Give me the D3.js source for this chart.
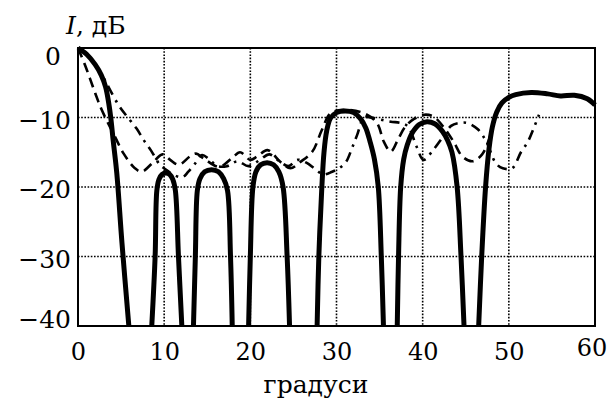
<!DOCTYPE html>
<html>
<head>
<meta charset="utf-8">
<script src="https://cdn.jsdelivr.net/npm/d3@7"></script>
<style>
  body { margin: 0; background: #fff; }
  text { font-family: "DejaVu Serif", serif; fill: #000; }
</style>
</head>
<body>
<div id="chart-area"></div>
<script>
// tick values
const xTicks = [0, 10, 20, 30, 40, 50, 60]
const yTicks = [0, -10, -20, -30, -40]
const gridX = [10, 20, 30, 40, 50]
const gridY = [-10, -20, -30]

// thick solid curve, null = break between lobes
const solid = [
  [0, 0], [1, -0.9], [2, -2.4], [2.7, -3.9], [3.2, -5.6], [3.55, -7.8], [3.8, -10], [4.1, -13.5], [4.5, -18], [5.1, -28], [5.9, -40], null,
  [8.56, -40], [8.95, -30], [9.15, -20.5], [9.4, -18.9], [9.75, -18.2], [10.2, -18], [10.65, -18.2], [11.0, -18.9], [11.3, -20.5], [11.66, -30], [12.05, -40], null,
  [13.4, -40], [13.62, -30], [13.85, -20.5], [14.15, -18.8], [14.7, -17.8], [15.5, -17.5], [16.3, -17.8], [16.9, -18.8], [17.35, -20.5], [17.7, -30], [17.9, -40], null,
  [19.8, -40], [20.0, -30], [20.3, -20], [20.65, -17.8], [21.2, -16.8], [21.94, -16.5], [22.7, -16.8], [23.3, -17.8], [23.8, -20], [24.27, -30], [24.55, -40], null,
  [27.75, -40], [27.95, -30], [28.3, -20], [28.55, -15], [28.85, -12], [29.3, -10.1], [30.0, -9.3], [31, -9.05], [32, -9.3], [32.8, -10.2], [33.4, -11.5], [33.9, -13.5], [34.4, -16], [34.85, -20], [35.2, -30], [35.45, -40], null,
  [37.05, -40], [37.2, -30], [37.45, -20], [37.8, -16], [38.2, -14], [38.8, -12.2], [39.6, -11], [40.5, -10.6], [41.4, -10.9], [42.3, -12], [42.9, -13.3], [43.4, -15], [44.0, -20], [44.45, -30], [44.8, -40], null,
  [46.5, -40], [46.85, -30], [47.3, -20], [47.7, -14.5], [48.1, -11.3], [48.6, -9.2], [49.2, -7.9], [50, -7.1], [50.8, -6.7], [52.6, -6.4], [54.5, -6.6], [56, -6.9], [57.6, -6.8], [59.1, -7.3], [60, -8.2]
]

// dashed curve
const dashed = [
  [0, 0], [0.8, -2.4], [2, -6.5], [2.75, -8.9], [4.3, -12.8], [5.3, -15.2], [6.6, -17.3], [7.4, -17.8], [8.6, -16.6],
  [9.8, -15.3], [10.7, -16.1], [11.7, -16.8], [13, -15.6], [13.7, -15.2], [14.6, -15.9], [16.4, -17.1], [17.9, -15.8],
  [18.8, -15.0], [20, -16.1], [20.8, -15.6], [22, -14.7], [23.5, -16.4], [24.65, -17.3], [25.8, -16.4], [27.2, -14.9],
  [28.3, -11.8], [29.3, -9.4], [30.8, -8.9], [33.2, -9.4], [34.7, -10.8], [35.5, -13.5], [36.3, -14.9], [37.2, -13],
  [38, -11.3], [39, -10.2], [40.2, -9.6], [41.3, -9.9], [42.5, -11.5], [43.6, -13.5], [44.6, -15.6], [45.8, -16.3],
  [46.9, -15.3], [47.6, -13.5], [48.1, -11.5]
]

// dash-dot curve
const dashDot = [
  [0, 0], [1.2, -1.2], [2.4, -3.2], [3.2, -4.8], [3.7, -6], [4.7, -8.2], [5.65, -9.8], [6.8, -11.6], [7.6, -13.2],
  [8.5, -14.8], [9.5, -16.8], [10.1, -17.4], [11, -18.2], [12.1, -18.6], [12.8, -17.8], [13.6, -16.6], [14.4, -15.4],
  [15.2, -16], [16.2, -17], [17.3, -17], [18.5, -16.3], [19.8, -17], [21, -16.2], [22.2, -15.3], [23.3, -16.2],
  [24.4, -17], [25.5, -16.1], [26.5, -16.5], [27.6, -17.5], [28.5, -18.2], [29.5, -17.8], [30.3, -17.3], [31.1, -16.4],
  [31.8, -14.4], [32.4, -12.5], [33.2, -10], [34, -10], [35.1, -10.3], [36.3, -10.6], [37.5, -10.8], [38.3, -11.3],
  [39.3, -14.2], [40.1, -16.1], [41.2, -14.7], [42.4, -12.7], [43.3, -11.2], [44.2, -10.8], [45.2, -10.8], [46.4, -11.7],
  [47.4, -13.5], [48.5, -16.6], [49.3, -17.3], [50.4, -17.3], [51.4, -15], [52.2, -13.5], [52.9, -11.5], [53.5, -9.6]
]

let width = 608
let height = 401
let margin = {top: 48, right: 13, bottom: 75, left: 78}

let svg = d3.select("#chart-area")
  .append("svg")
    .attr("width", width)
    .attr("height", height)

let x = d3.scaleLinear().domain([0, 60]).range([margin.left, width - margin.right])
let y = d3.scaleLinear().domain([-40, 0]).range([height - margin.bottom, margin.top])

// dotted grid
svg.append("g")
  .selectAll("line").data(gridX).enter()
  .append("line")
    .attr("x1", d => x(d)).attr("x2", d => x(d))
    .attr("y1", y(0)).attr("y2", y(-40))
    .attr("stroke", "#000").attr("stroke-width", 1.6)
    .attr("stroke-dasharray", "1.6,1.6")

svg.append("g")
  .selectAll("line").data(gridY).enter()
  .append("line")
    .attr("x1", x(0)).attr("x2", x(60))
    .attr("y1", d => y(d)).attr("y2", d => y(d))
    .attr("stroke", "#000").attr("stroke-width", 1.6)
    .attr("stroke-dasharray", "1.6,1.6")

let line = d3.line()
  .defined(d => d)
  .x(d => x(d[0]))
  .y(d => y(d[1]))
  .curve(d3.curveCatmullRom.alpha(0.5))

svg.append("path")
  .attr("d", line(dashed))
  .attr("fill", "none").attr("stroke", "#000").attr("stroke-width", 2.6)
  .attr("stroke-dasharray", "10,6")

svg.append("path")
  .attr("d", line(dashDot))
  .attr("fill", "none").attr("stroke", "#000").attr("stroke-width", 2.6)
  .attr("stroke-dasharray", "10,6,2.5,6")

svg.append("path")
  .attr("d", line(solid))
  .attr("fill", "none").attr("stroke", "#000").attr("stroke-width", 5)
  .attr("stroke-linejoin", "round")

// frame
svg.append("rect")
  .attr("x", x(0)).attr("y", y(0))
  .attr("width", x(60) - x(0)).attr("height", y(-40) - y(0))
  .attr("fill", "none").attr("stroke", "#000").attr("stroke-width", 2)

// axes
let bottomAxis = d3.axisBottom(x).tickValues(xTicks).tickSize(0).tickPadding(17)
svg.append("g")
  .attr("transform", "translate(0, " + y(-40) + ")")
  .call(bottomAxis)
  .call(g => g.select(".domain").remove())
  .selectAll("text")
    .attr("font-size", "24px")
    .attr("font-family", "DejaVu Serif")
    .filter(d => d === 60).attr("dx", "-0.15em").attr("dy", "0.55em")

let leftAxis = d3.axisLeft(y).tickValues(yTicks).tickSize(0).tickPadding(7)
let yAxisG = svg.append("g")
  .attr("transform", "translate(" + x(0) + ", 0)")
  .call(leftAxis)
  .call(g => g.select(".domain").remove())
yAxisG.selectAll("text")
    .attr("font-size", "25px")
    .attr("font-family", "DejaVu Serif")
    .attr("dy", "0.42em")
// the top label sits lower and further left, the bottom one a bit higher
yAxisG.selectAll("text").filter(d => d === 0).attr("dy", "0.66em").attr("dx", "-0.4em")
yAxisG.selectAll("text").filter(d => d === -40).attr("dy", "0.05em")

// axis titles
let yLabel = svg.append("text")
  .attr("x", 66)
  .attr("y", 34)
  .attr("font-size", "25px")
yLabel.append("tspan").attr("font-style", "italic").text("I")
yLabel.append("tspan").text(", дБ")

svg.append("text")
  .attr("x", 316)
  .attr("y", 393)
  .attr("text-anchor", "middle")
  .attr("font-size", "25px")
  .text("градуси")
</script>
</body>
</html>
